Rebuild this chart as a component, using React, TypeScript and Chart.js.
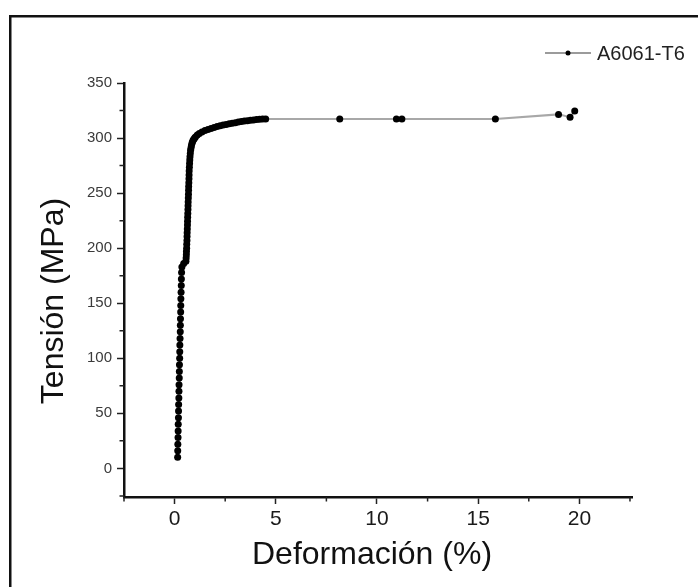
import React, { useEffect, useRef } from "react";
import { Chart, registerables } from "chart.js";

Chart.register(...registerables);

// ---- data ----
const seriesLabel = "A6061-T6";
const xTitle = "Deformación (%)";
const yTitle = "Tensión (MPa)";

const strainValues = [
  0.15, 0.155, 0.16, 0.17, 0.175, 0.18, 0.19, 0.195, 0.2, 0.21, 0.215, 0.22, 0.23, 0.235, 0.24,
  0.25, 0.255, 0.26, 0.27, 0.28, 0.285, 0.29, 0.3, 0.305, 0.31, 0.32, 0.33, 0.335, 0.345, 0.36,
  0.45, 0.56, 0.57, 0.58, 0.585, 0.595, 0.6, 0.61, 0.615, 0.62, 0.628, 0.635, 0.64, 0.645, 0.652,
  0.66, 0.665, 0.67, 0.678, 0.685, 0.69, 0.695, 0.703, 0.71, 0.715, 0.72, 0.73, 0.74, 0.75, 0.76,
  0.775, 0.79, 0.81, 0.83, 0.855, 0.88, 0.915, 0.95, 0.99, 1.03, 1.12, 1.22, 1.35, 1.5, 1.65,
  1.8, 1.95, 2.1, 2.25, 2.4, 2.55, 2.7, 2.85, 3.0, 3.15, 3.3, 3.45, 3.6, 3.75, 3.9, 4.05, 4.2,
  4.35, 4.5,
  8.16, 10.96, 11.23, 15.85, 18.97, 19.54, 19.77,
];
const stressValues = [
  10, 16, 22, 28, 34, 40, 46, 52, 58, 64, 70, 76, 82, 88, 94,
  100, 106, 112, 118, 124, 130, 136, 142, 148, 154, 160, 166, 172, 178, 183,
  186, 188, 191, 194, 197, 200, 203.5, 207, 210.5, 214, 217.5, 221, 224.5, 228, 231.5,
  235, 238.5, 242, 245.5, 249, 252.5, 256, 259.5, 263, 266.5, 270, 273.5, 277, 280, 283,
  286, 289, 291, 293, 295, 296.5, 298, 299, 300, 301, 302.8, 304.2, 305.5, 306.8, 307.8,
  308.7, 309.6, 310.4, 311.1, 311.8, 312.4, 313, 313.5, 314, 314.5, 315, 315.4, 315.8, 316.2, 316.5, 316.8, 317,
  317.2, 317.3,
  317.3, 317.3, 317.3, 317.4, 321.5, 319, 324.5,
];

const xMin = -2.5;
const xMax = 22.6;
const xStep = 2.5;
const xLabelEvery = 5;
const yMin = -26;
const yMax = 350;
const yStep = 25;
const yLabelEvery = 50;

const FONT = '"Liberation Sans", Arial, Helvetica, sans-serif';

const isMajor = (v: number, every: number) => Math.abs(v % every) < 1e-6;

const framePlugin = {
  id: "frame",
  beforeDraw(chart: any) {
    const { ctx, width, height } = chart;
    ctx.save();
    ctx.fillStyle = "#ffffff";
    ctx.fillRect(0, 0, width, height);
    ctx.fillStyle = "#111111";
    ctx.fillRect(9, 15, width - 9, 2.5);
    ctx.fillRect(9, 15, 2.5, height - 15);
    ctx.restore();
  },
};

const decorPlugin = {
  id: "decor",
  afterDraw(chart: any) {
    const { ctx, chartArea } = chart;
    const xs = chart.scales.x;
    const ys = chart.scales.y;
    ctx.save();
    // minor ticks
    ctx.strokeStyle = "#222222";
    ctx.lineWidth = 1.5;
    ctx.beginPath();
    xs.ticks.forEach((t: any) => {
      if (!isMajor(t.value, xLabelEvery)) {
        const px = xs.getPixelForValue(t.value);
        ctx.moveTo(px, chartArea.bottom);
        ctx.lineTo(px, chartArea.bottom + 4.5);
      }
    });
    ys.ticks.forEach((t: any) => {
      if (!isMajor(t.value, yLabelEvery)) {
        const py = ys.getPixelForValue(t.value);
        ctx.moveTo(chartArea.left, py);
        ctx.lineTo(chartArea.left - 4.5, py);
      }
    });
    ctx.stroke();

    // axis titles
    ctx.fillStyle = "#111111";
    ctx.font = `32px ${FONT}`;
    ctx.textAlign = "center";
    ctx.textBaseline = "alphabetic";
    ctx.fillText(xTitle, 372, 564);
    ctx.save();
    ctx.translate(63, 301);
    ctx.rotate(-Math.PI / 2);
    ctx.fillText(yTitle, 0, 0);
    ctx.restore();

    // legend
    const ds = chart.data.datasets[0];
    const ly = 53;
    ctx.strokeStyle = "#7a7a7a";
    ctx.lineWidth = 1.5;
    ctx.beginPath();
    ctx.moveTo(545, ly);
    ctx.lineTo(591, ly);
    ctx.stroke();
    ctx.fillStyle = "#000000";
    ctx.beginPath();
    ctx.arc(568, ly, 2.5, 0, Math.PI * 2);
    ctx.fill();
    ctx.fillStyle = "#222222";
    ctx.font = `20px ${FONT}`;
    ctx.textAlign = "left";
    ctx.textBaseline = "middle";
    ctx.fillText(ds.label, 597, ly + 1);
    ctx.restore();
  },
};

export default function App() {
  const canvasRef = useRef<HTMLCanvasElement | null>(null);

  useEffect(() => {
    if (!canvasRef.current) return;
    const points = strainValues.map((x, i) => ({ x, y: stressValues[i] }));
    const chart = new Chart(canvasRef.current, {
      type: "scatter",
      data: {
        datasets: [
          {
            label: seriesLabel,
            data: points,
            showLine: true,
            borderColor: "#a8a8a8",
            borderWidth: 2,
            pointRadius: 3.5,
            pointHoverRadius: 3.5,
            pointBackgroundColor: "#000000",
            pointBorderColor: "#000000",
            pointBorderWidth: 0,
            tension: 0,
          } as any,
        ],
      },
      options: {
        responsive: false,
        animation: false,
        events: [],
        layout: { padding: { top: 83, right: 66, bottom: 0, left: 0 } },
        plugins: {
          legend: { display: false },
          tooltip: { enabled: false },
        },
        scales: {
          x: {
            type: "linear",
            min: xMin,
            max: xMax,
            ticks: {
              stepSize: xStep,
              includeBounds: false,
              autoSkip: false,
              maxRotation: 0,
              padding: 3,
              color: "#1a1a1a",
              font: { size: 21, family: FONT },
              callback: (v: any) => (isMajor(Number(v), xLabelEvery) ? String(v) : ""),
            },
            grid: {
              drawOnChartArea: false,
              drawTicks: true,
              tickLength: 7,
              tickWidth: 1.5,
              tickColor: (c: any) =>
                c.tick && isMajor(c.tick.value, xLabelEvery) ? "#222222" : "rgba(0,0,0,0)",
            },
            border: { display: true, color: "#111111", width: 2.5 },
            afterFit: (s: any) => {
              s.height = 90;
            },
          } as any,
          y: {
            type: "linear",
            min: yMin,
            max: yMax,
            ticks: {
              stepSize: yStep,
              includeBounds: false,
              autoSkip: false,
              padding: 5,
              color: "#3a3a3a",
              font: { size: 15, family: FONT },
              callback: (v: any) => (isMajor(Number(v), yLabelEvery) ? String(v) : ""),
            },
            grid: {
              drawOnChartArea: false,
              drawTicks: true,
              tickLength: 7,
              tickWidth: 1.5,
              tickColor: (c: any) =>
                c.tick && isMajor(c.tick.value, yLabelEvery) ? "#222222" : "rgba(0,0,0,0)",
            },
            border: { display: true, color: "#111111", width: 2.5 },
            afterFit: (s: any) => {
              s.width = 124;
            },
          } as any,
        },
      },
      plugins: [framePlugin, decorPlugin],
    });
    return () => chart.destroy();
  }, []);

  return (
    <div
      style={{
        position: "fixed",
        left: 0,
        top: 0,
        width: 698,
        height: 587,
        background: "#ffffff",
      }}
    >
      <canvas ref={canvasRef} width={698} height={587} style={{ display: "block" }} />
    </div>
  );
}
